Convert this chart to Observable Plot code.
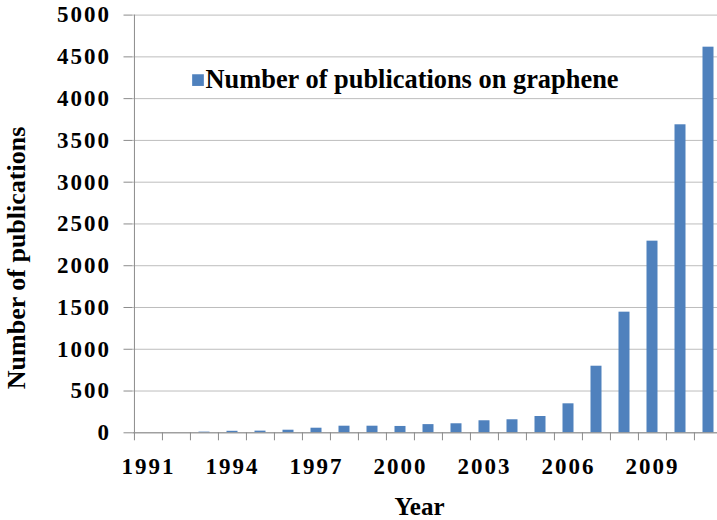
<!DOCTYPE html>
<html>
<head>
<meta charset="utf-8">
<script src="https://cdn.jsdelivr.net/npm/d3@7"></script>
<script src="https://cdn.jsdelivr.net/npm/@observablehq/plot@0.6"></script>
<style>
  html, body { margin: 0; padding: 0; background: #fff; overflow: hidden; }
  svg { max-width: none !important; }
  svg g, svg text { font-family: 'Liberation Serif', 'Times New Roman', serif !important; font-weight: bold !important; font-variant: normal !important; font-variant-numeric: normal !important; }
  [aria-label="y-axis tick label"] text, [aria-label="x-axis tick label"] text { letter-spacing: 2px; }
</style>
</head>
<body>
<div id="chart"></div>
<script>
const years = [1991,1992,1993,1994,1995,1996,1997,1998,1999,2000,2001,2002,2003,2004,2005,2006,2007,2008,2009,2010,2011];
const publications = [0,0,8,18,20,31,55,79,79,76,98,108,144,156,195,347,797,1444,2294,3687,4616];
const xTickLabels = [1991,1994,1997,2000,2003,2006,2009];
const yTicks = [0,500,1000,1500,2000,2500,3000,3500,4000,4500,5000];
const seriesName = "Number of publications on graphene";
const xTitle = "Year";
const yTitle = "Number of publications";

const data = years.map((y, i) => ({year: y, count: publications[i]}));

const width = 723, height = 520;
const marginLeft = 132.5, marginRight = 0, marginTop = 14.6, marginBottom = 87.7;
const step = (width - marginLeft - marginRight) / years.length;
const barColor = "#4f81bd";
const font = "'Liberation Serif', 'Times New Roman', serif";

const chart = Plot.plot({
  width, height, marginLeft, marginRight, marginTop, marginBottom,
  style: {fontFamily: font, fontWeight: "bold", background: "#fff", color: "#000"},
  x: {type: "band", domain: years, padding: 0},
  y: {domain: [0, 5000]},
  marks: [
    Plot.gridY({ticks: yTicks, stroke: "#bdbdbd", strokeOpacity: 1}),
    Plot.barY(data, {x: "year", y: "count", fill: barColor, insetLeft: 8.5, insetRight: 8.5}),
    Plot.ruleY([0], {stroke: "#8c8c8c"}),
    Plot.ruleX([years[0]], {x: d => d, dx: -step / 2, stroke: "#8c8c8c"}),
    Plot.axisY({ticks: yTicks, tickSize: 9, tickPadding: 13, fontSize: 23, fontFamily: font, fontWeight: "bold", fontVariant: "normal", stroke: "#8c8c8c", label: null, tickFormat: d => String(d)}),
    Plot.axisX({ticks: years, tickSize: 8, tickFormat: () => "", dx: -step / 2, stroke: "#8c8c8c", label: null}),
    Plot.axisX({ticks: xTickLabels, tickSize: 0, tickPadding: 25, fontSize: 23, fontFamily: font, fontWeight: "bold", fontVariant: "normal", label: null, tickFormat: d => String(d)}),
    Plot.text([xTitle], {frameAnchor: "bottom", text: d => d, fontSize: 25, fontFamily: font, fontWeight: "bold", textAnchor: "middle", lineAnchor: "middle", dx: -8.7, dy: 73.7, fill: "#000"}),
    Plot.text([yTitle], {frameAnchor: "left", text: d => d, fontSize: 26, fontFamily: font, fontWeight: "bold", textAnchor: "middle", lineAnchor: "middle", rotate: -90, dx: -116, dy: 34, fill: "#000"}),
    Plot.dot([seriesName], {frameAnchor: "top-left", symbol: "square", r: 6.6, fill: barColor, stroke: "none", dx: 65, dy: 65}),
    Plot.text([seriesName], {frameAnchor: "top-left", text: d => d, textAnchor: "start", lineAnchor: "middle", fontSize: 26.4, fontFamily: font, fontWeight: "bold", dx: 72.5, dy: 64, fill: "#000"})
  ]
});
document.getElementById("chart").appendChild(chart);
</script>
</body>
</html>
